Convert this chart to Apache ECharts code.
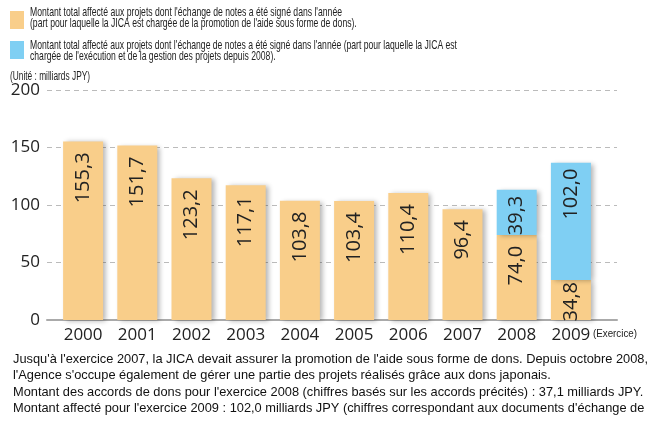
<!DOCTYPE html>
<html>
<head>
<meta charset="utf-8">
<script src="https://cdn.jsdelivr.net/npm/echarts@6/dist/echarts.min.js"></script>
<style>
  html, body { margin: 0; padding: 0; background: #fff; }
  #chart { width: 650px; height: 425px; }
</style>
</head>
<body>
<div id="chart"></div>
<script>
// données (milliards JPY)
const years = ['2000', '2001', '2002', '2003', '2004', '2005', '2006', '2007', '2008', '2009']
const promotion = [155.3, 151.7, 123.2, 117.1, 103.8, 103.4, 110.4, 96.4, 74.0, 34.8]
const execution = ['-', '-', '-', '-', '-', '-', '-', '-', 39.3, 102.0]
const yTicks = { min: 0, max: 200, interval: 50 }

const colors = { promotion: '#F9CE8A', execution: '#7FCFF3' }
const legendLines = {
  promotion: ["Montant total affecté aux projets dont l'échange de notes a été signé dans l'année",
    "(part pour laquelle la JICA est chargée de la promotion de l'aide sous forme de dons)."],
  execution: ["Montant total affecté aux projets dont l'échange de notes a été signé dans l'année (part pour laquelle la JICA est",
    "chargée de l'exécution et de la gestion des projets depuis 2008)."]
}
const noteLines = [
  "Jusqu'à l'exercice 2007, la JICA devait assurer la promotion de l'aide sous forme de dons. Depuis octobre 2008,",
  "l'Agence s'occupe également de gérer une partie des projets réalisés grâce aux dons japonais.",
  "Montant des accords de dons pour l'exercice 2008 (chiffres basés sur les accords précités) : 37,1 milliards JPY.",
  "Montant affecté pour l'exercice 2009 : 102,0 milliards JPY (chiffres correspondant aux documents d'échange de"
]

const narrow = '"Liberation Sans", Arial, sans-serif'
const round = '"Open Sans", "DejaVu Sans", sans-serif'

// le texte d'origine est très condensé : on mesure puis on resserre horizontalement
const ctx = document.createElement('canvas').getContext('2d')
function squeeze(line, size, width) {
  ctx.font = size + 'px ' + narrow
  return width / ctx.measureText(line).width
}

function textBlock(lines, x, y, size, lineHeight, width, color) {
  return {
    type: 'text', x: x, y: y,
    scaleX: squeeze(lines[0], size, width),
    style: {
      text: lines.join('\n'), fontFamily: narrow, fontSize: size,
      lineHeight: lineHeight, fill: color || '#222', align: 'left', verticalAlign: 'top'
    }
  }
}

const chart = echarts.init(document.getElementById('chart'))
const fmt = p => (typeof p.value === 'number' ? p.value.toFixed(1).replace('.', ',') : '')
const barLabel = {
  show: true,
  position: 'insideTop',
  rotate: 90,
  align: 'right',
  verticalAlign: 'middle',
  distance: 11,
  fontFamily: round,
  fontSize: 20,
  color: '#222',
  formatter: fmt
}
const shadow = { shadowBlur: 5, shadowOffsetX: 3, shadowOffsetY: 1, shadowColor: 'rgba(0,0,0,0.3)' }

// la barre 2009 (orange) est trop courte pour la marge normale
const promotionData = promotion.map((v, i) => (i === 9 ? { value: v, label: { distance: 2 } } : v))

const option = {
  animation: false,
  graphic: [
    { type: 'rect', shape: { x: 10, y: 11, width: 14, height: 18 }, style: { fill: colors.promotion } },
    { type: 'rect', shape: { x: 10, y: 41, width: 14, height: 18 }, style: { fill: colors.execution } },
    textBlock(legendLines.promotion, 30, 7, 13, 11, 312),
    textBlock(legendLines.execution, 30, 40, 13, 11, 427),
    textBlock(['(Unité : milliards JPY)'], 10, 70, 12, 14, 80),
    textBlock(['(Exercice)'], 593, 327, 11.5, 14, 44),
    textBlock(noteLines, 13, 351, 13, 16.5, 635, '#111')
  ],
  grid: [
    { left: 56, width: 542, top: 90, height: 230 },
    { left: 47, width: 570, top: 90, height: 230 }
  ],
  xAxis: [
    {
      gridIndex: 0, type: 'category', data: years,
      axisLine: { show: false }, axisTick: { show: false },
      axisLabel: { margin: 7, fontFamily: round, fontSize: 17, color: '#222' }
    },
    {
      gridIndex: 1, type: 'value', min: 0, max: 1,
      axisLine: { show: true, lineStyle: { color: '#aaa', width: 2 } },
      axisTick: { show: false }, axisLabel: { show: false }, splitLine: { show: false }
    }
  ],
  yAxis: [
    { gridIndex: 0, type: 'value', min: yTicks.min, max: yTicks.max, interval: yTicks.interval, show: false },
    {
      gridIndex: 1, type: 'value', min: yTicks.min, max: yTicks.max, interval: yTicks.interval,
      axisLine: { show: false }, axisTick: { show: false },
      axisLabel: { margin: 7, fontFamily: round, fontSize: 17, color: '#222' },
      splitLine: { lineStyle: { color: '#bbb', type: [5, 4], width: 1 } }
    }
  ],
  series: [
    {
      name: 'promotion', type: 'bar', stack: 'total', barWidth: 40,
      xAxisIndex: 0, yAxisIndex: 0, data: promotionData,
      itemStyle: Object.assign({ color: colors.promotion }, shadow),
      label: barLabel
    },
    {
      name: 'execution', type: 'bar', stack: 'total', barWidth: 40,
      xAxisIndex: 0, yAxisIndex: 0, data: execution,
      itemStyle: Object.assign({ color: colors.execution }, shadow),
      label: Object.assign({}, barLabel, { distance: 6 })
    }
  ]
}
chart.setOption(option)
window.addEventListener('resize', function () {
  chart.resize()
})
</script>
</body>
</html>
